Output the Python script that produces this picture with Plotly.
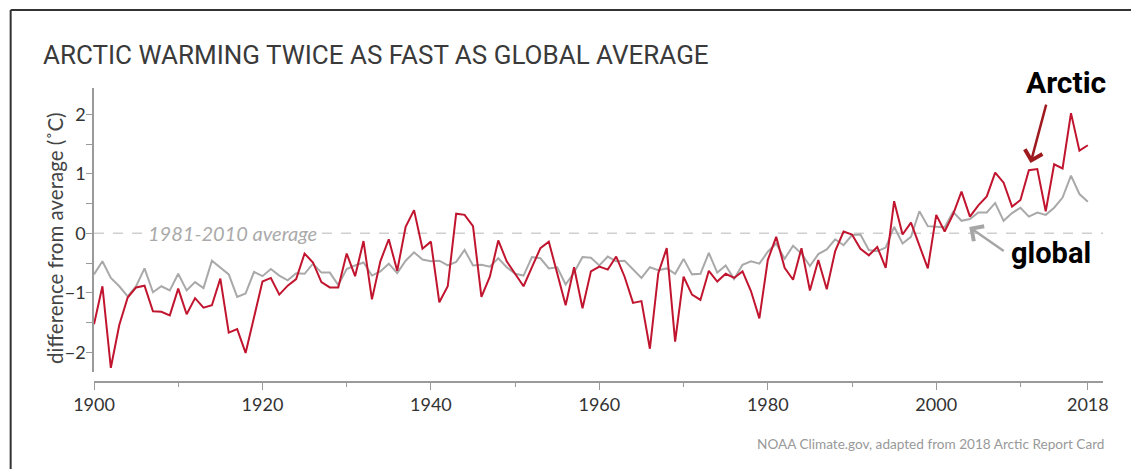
import plotly.graph_objects as go

years = list(range(1900, 2019))

arctic = [
    -1.53, -0.89, -2.26, -1.54, -1.08, -0.91, -0.88, -1.31, -1.32, -1.38,
    -0.93, -1.36, -1.09, -1.25, -1.21, -0.76, -1.67, -1.61, -2.01, -1.39,
    -0.81, -0.75, -1.03, -0.88, -0.77, -0.34, -0.49, -0.82, -0.91, -0.91,
    -0.34, -0.72, -0.13, -1.11, -0.47, -0.10, -0.63, 0.11, 0.39, -0.26,
    -0.14, -1.16, -0.89, 0.33, 0.31, 0.12, -1.07, -0.73, -0.12, -0.47,
    -0.67, -0.89, -0.57, -0.25, -0.14, -0.67, -1.21, -0.57, -1.26, -0.64,
    -0.56, -0.61, -0.39, -0.73, -1.17, -1.14, -1.94, -0.67, -0.25, -1.82,
    -0.73, -1.03, -1.12, -0.63, -0.81, -0.68, -0.75, -0.64, -0.97, -1.43,
    -0.45, -0.06, -0.58, -0.78, -0.25, -0.96, -0.45, -0.94, -0.30, 0.03,
    -0.02, -0.26, -0.37, -0.23, -0.58, 0.54, -0.02, 0.18, -0.21, -0.59,
    0.31, 0.03, 0.32, 0.70, 0.28, 0.47, 0.62, 1.02, 0.85, 0.45,
    0.56, 1.06, 1.08, 0.37, 1.16, 1.09, 2.02, 1.39, 1.48,
]

global_avg = [
    -0.69, -0.47, -0.75, -0.89, -1.06, -0.89, -0.59, -0.99, -0.89, -0.96,
    -0.68, -0.96, -0.82, -0.92, -0.46, -0.57, -0.69, -1.07, -1.01, -0.65,
    -0.72, -0.60, -0.71, -0.79, -0.67, -0.68, -0.51, -0.66, -0.66, -0.87,
    -0.60, -0.54, -0.49, -0.71, -0.64, -0.51, -0.67, -0.46, -0.32, -0.44,
    -0.47, -0.46, -0.54, -0.48, -0.28, -0.54, -0.53, -0.56, -0.42, -0.57,
    -0.68, -0.71, -0.40, -0.42, -0.59, -0.57, -0.86, -0.66, -0.40, -0.41,
    -0.54, -0.39, -0.47, -0.46, -0.60, -0.75, -0.57, -0.62, -0.59, -0.68,
    -0.43, -0.69, -0.68, -0.33, -0.66, -0.54, -0.77, -0.53, -0.47, -0.51,
    -0.31, -0.17, -0.43, -0.21, -0.34, -0.55, -0.35, -0.27, -0.10, -0.20,
    -0.03, -0.02, -0.28, -0.30, -0.24, 0.11, -0.17, -0.06, 0.37, 0.12,
    0.11, 0.10, 0.36, 0.21, 0.24, 0.35, 0.35, 0.51, 0.21, 0.34,
    0.43, 0.28, 0.35, 0.31, 0.43, 0.60, 0.97, 0.66, 0.53,
]

x_tickvals = [1900, 1920, 1940, 1960, 1980, 2000, 2018]
x_minor_tickvals = [1910, 1930, 1950, 1970, 1990, 2010]
y_tickvals = [-2, -1.5, -1, -0.5, 0, 0.5, 1, 1.5, 2]
y_ticktext = ["−2", "", "−1", "", "0", "", "1", "", "2"]

TEXT_FONT = "Lato, 'Open Sans', sans-serif"
HEAD_FONT = "Roboto, 'Liberation Sans', sans-serif"

fig = go.Figure()
fig.add_trace(go.Scatter(x=years, y=global_avg, mode="lines",
                         line=dict(color="#a9a9a9", width=2), name="global",
                         hoverinfo="x+y"))
fig.add_trace(go.Scatter(x=years, y=arctic, mode="lines",
                         line=dict(color="#c1152f", width=2), name="Arctic",
                         hoverinfo="x+y"))

fig.update_layout(
    width=1131, height=469,
    margin=dict(l=94, r=28, t=88, b=87),
    paper_bgcolor="white", plot_bgcolor="white",
    showlegend=False,
    title=dict(text="ARCTIC WARMING TWICE AS FAST AS GLOBAL AVERAGE",
               xref="container", yref="container",
               x=43 / 1131, xanchor="left", y=1 - 55 / 469, yanchor="middle",
               font=dict(family=HEAD_FONT, size=26, color="#3a3a3a")),
    xaxis=dict(range=[1900, 2019.8], tickvals=x_tickvals,
               ticks="outside", ticklen=7, tickwidth=1.2, tickcolor="#9a9a9a",
               showline=True, linecolor="#9a9a9a", linewidth=1.5,
               showgrid=False, zeroline=False, anchor="free", position=0,
               tickfont=dict(family=TEXT_FONT, size=18, color="#333333"),
               minor=dict(tickvals=x_minor_tickvals, ticks="outside", ticklen=4,
                          tickcolor="#9a9a9a", showgrid=False),
               automargin=False),
    yaxis=dict(domain=[0.034, 1], range=[-2.331, 2.442],
               tickvals=y_tickvals, ticktext=y_ticktext,
               ticks="outside", ticklen=6, tickwidth=1.2, tickcolor="#9a9a9a",
               showline=True, linecolor="#9a9a9a", linewidth=1.5,
               showgrid=False, zeroline=False, ticklabelstandoff=-3,
               tickfont=dict(family=TEXT_FONT, size=18, color="#333333"),
               automargin=False),
)

# y-axis title placed precisely
fig.add_annotation(x=-0.0387, y=0.49, xref="paper", yref="paper",
                   text="difference from average (˚C)", textangle=-90,
                   showarrow=False, xanchor="center", yanchor="middle",
                   font=dict(family=TEXT_FONT, size=20.5, color="#444444"))

# 1981-2010 average dashed line
fig.add_shape(type="line", xref="x", yref="y", x0=1900, x1=2019.8, y0=0, y1=0,
              line=dict(color="#cfcfcf", width=1.5, dash="10px,9px"), layer="below")

# frame lines (left and top)
fig.add_shape(type="line", xref="paper", yref="paper",
              x0=-0.0826, x1=-0.0826, y0=-0.31, y1=1.265,
              line=dict(color="#333333", width=2))
fig.add_shape(type="line", xref="paper", yref="paper",
              x0=-0.0826, x1=1.05, y0=1.265, y1=1.265,
              line=dict(color="#333333", width=2))

fig.add_annotation(x=1916.4, y=0, xref="x", yref="y",
                   text="<i>1981-2010 average</i>", showarrow=False,
                   font=dict(family=TEXT_FONT, size=20, color="#aaaaaa"),
                   bgcolor="white", borderpad=3)

fig.add_annotation(x=0.9633, y=1.0204, xref="paper", yref="paper",
                   text="<b>Arctic</b>", showarrow=False,
                   xanchor="center", yanchor="middle",
                   font=dict(family=HEAD_FONT, size=30, color="black"))
fig.add_annotation(x=2011.2, y=1.18, xref="x", yref="y", text="",
                   showarrow=True, ax=16, ay=-60, arrowhead=4, arrowsize=1.4,
                   arrowwidth=2.5, arrowcolor="#9e1a1f", standoff=0)

fig.add_annotation(x=2013.66, y=-0.33, xref="x", yref="y", text="<b>global</b>",
                   showarrow=False, font=dict(family=HEAD_FONT, size=29, color="black"))
fig.add_annotation(x=2003.92, y=0.106, xref="x", yref="y", text="",
                   showarrow=True, ax=36, ay=25, arrowhead=4, arrowsize=1.4,
                   arrowwidth=2.5, arrowcolor="#a6a6a6", standoff=0)

fig.add_annotation(x=1.003, y=-0.211, xref="paper", yref="paper",
                   xanchor="right", yanchor="middle", showarrow=False,
                   text="NOAA Climate.gov, adapted from 2018 Arctic Report Card",
                   font=dict(family=TEXT_FONT, size=13.6, color="#999999"))

fig.write_html("out.html", config={"displayModeBar": False},
               post_script="document.body.style.margin='0';")
